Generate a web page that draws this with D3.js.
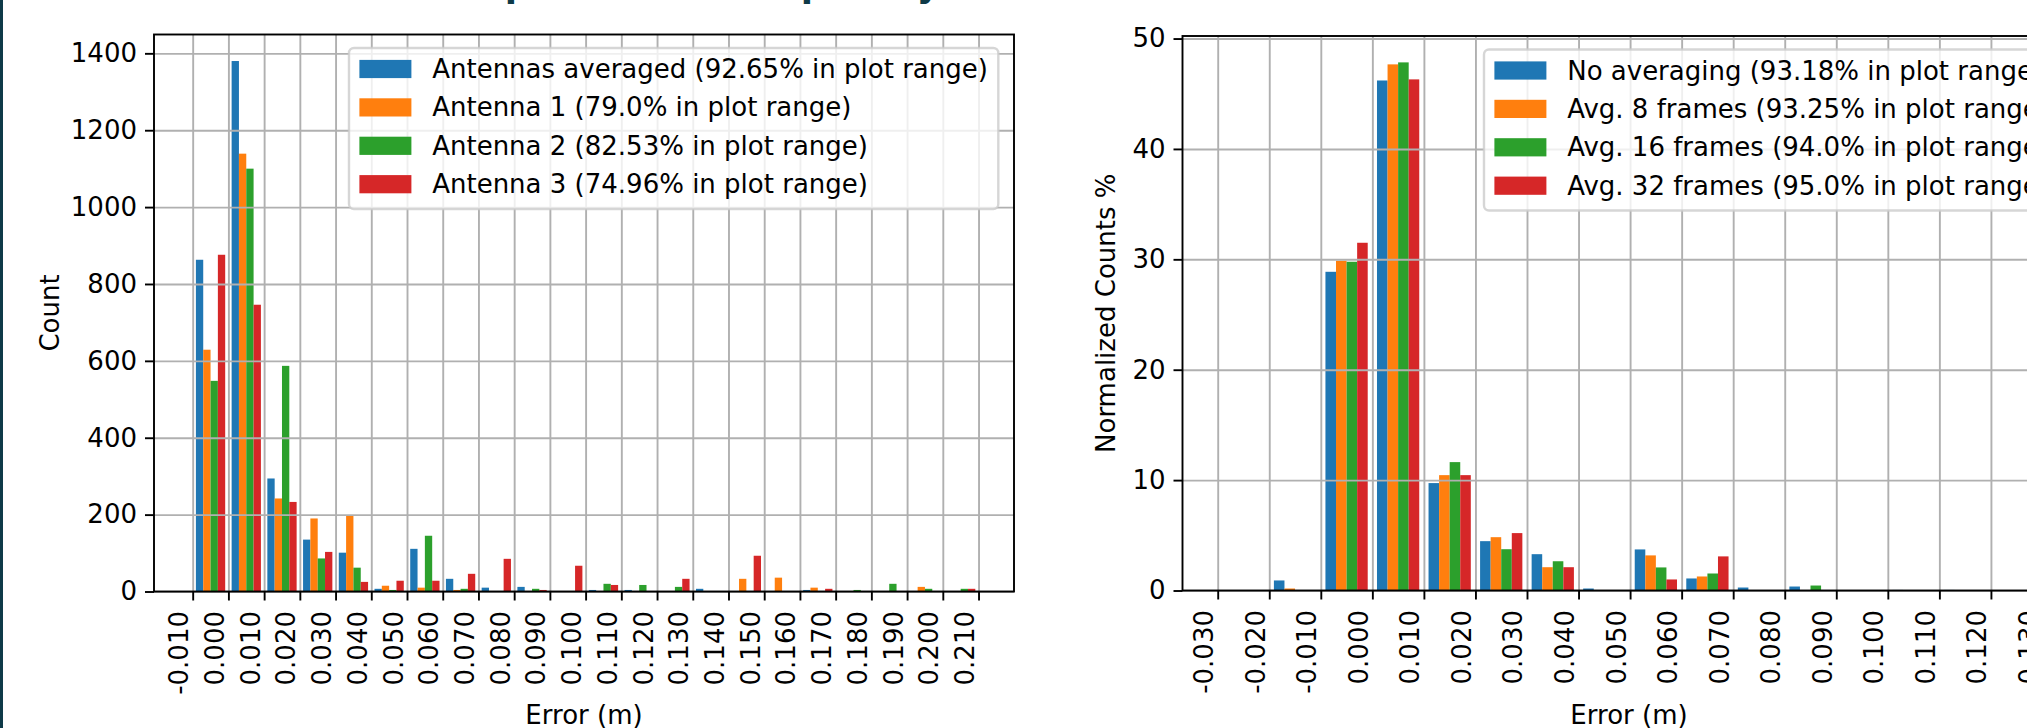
<!DOCTYPE html>
<html>
<head>
<meta charset="utf-8">
<script src="https://cdn.jsdelivr.net/npm/d3@7"></script>
<style>
  html, body { margin: 0; padding: 0; background: #fff; overflow: hidden; }
  svg { display: block; font-family: "DejaVu Sans", sans-serif; }
  text { fill: #000; }
</style>
</head>
<body>
<svg id="chart" width="2027" height="728"></svg>
<script>
const colors = ["#1f77b4", "#ff7f0e", "#2ca02c", "#d62728"];
const teal = "#0e3a48";
const binWidth = 0.01;

// left panel: counts per antenna, bins start at these edges
const leftBins = [-0.01, 0.0, 0.01, 0.02, 0.03, 0.04, 0.05, 0.06, 0.07, 0.08, 0.09,
  0.1, 0.11, 0.12, 0.13, 0.14, 0.15, 0.16, 0.17, 0.18, 0.19, 0.2];
const antennasAveraged = [863, 1380, 294, 135, 101, 7, 111, 33, 10, 12, 0, 4, 4, 0, 7, 0, 0, 4, 0, 0, 0, 0];
const antenna1 = [629, 1139, 242, 190, 197, 15, 10, 4, 0, 0, 0, 0, 0, 0, 0, 33, 36, 10, 0, 0, 12, 0];
const antenna2 = [548, 1100, 587, 86, 62, 4, 145, 7, 0, 7, 0, 20, 17, 12, 0, 0, 0, 0, 4, 20, 7, 7];
const antenna3 = [876, 746, 233, 103, 25, 28, 28, 46, 85, 4, 67, 17, 0, 33, 0, 93, 0, 7, 0, 0, 0, 7];
const leftLabels = [
  "Antennas averaged (92.65% in plot range)",
  "Antenna 1 (79.0% in plot range)",
  "Antenna 2 (82.53% in plot range)",
  "Antenna 3 (74.96% in plot range)"
];
const leftXTicks = [-0.01, 0.0, 0.01, 0.02, 0.03, 0.04, 0.05, 0.06, 0.07, 0.08, 0.09, 0.1,
  0.11, 0.12, 0.13, 0.14, 0.15, 0.16, 0.17, 0.18, 0.19, 0.2, 0.21];
const leftYTicks = [0, 200, 400, 600, 800, 1000, 1200, 1400];

// right panel: normalized counts per frame averaging
const rightBins = [-0.03, -0.02, -0.01, 0.0, 0.01, 0.02, 0.03, 0.04, 0.05, 0.06, 0.07, 0.08,
  0.09, 0.1, 0.11, 0.12];
const noAveraging = [0, 0.91, 28.87, 46.2, 9.73, 4.47, 3.29, 0.18, 3.72, 1.09, 0.27, 0.36, 0, 0.05, 0.05, 0];
const avg8Frames = [0, 0.18, 29.87, 47.66, 10.45, 4.83, 2.11, 0, 3.18, 1.27, 0, 0, 0, 0, 0, 0];
const avg16Frames = [0, 0, 29.78, 47.84, 11.63, 3.74, 2.65, 0, 2.09, 1.54, 0, 0.45, 0, 0, 0, 0];
const avg32Frames = [0, 0, 31.5, 46.3, 10.45, 5.2, 2.11, 0, 1.0, 3.09, 0, 0, 0, 0, 0, 0];
const rightLabels = [
  "No averaging (93.18% in plot range)",
  "Avg. 8 frames (93.25% in plot range)",
  "Avg. 16 frames (94.0% in plot range)",
  "Avg. 32 frames (95.0% in plot range)"
];
const rightXTicks = [-0.03, -0.02, -0.01, 0.0, 0.01, 0.02, 0.03, 0.04, 0.05, 0.06, 0.07, 0.08,
  0.09, 0.1, 0.11, 0.12, 0.13];
const rightYTicks = [0, 10, 20, 30, 40, 50];

const titleText = "Error of Spatial and Temporally Filtered Results";

const svg = d3.select("#chart");
svg.append("rect").attr("width", 2027).attr("height", 728).attr("fill", "#fff");

renderPanel(svg, {
  left: 154, right: 1014, top: 34.5, bottom: 591.5,
  xDomain: [-0.02083, 0.21993], yDomain: [0, 1449],
  bins: leftBins, series: [antennasAveraged, antenna1, antenna2, antenna3],
  labels: leftLabels, xTicks: leftXTicks, yTicks: leftYTicks,
  ylabel: "Count", ylabelX: 59, legendX: 349
});

renderPanel(svg, {
  left: 1182.5, right: 2080, top: 36, bottom: 590.5,
  xDomain: [-0.03683, 0.13728], yDomain: [0, 50.23],
  bins: rightBins, series: [noAveraging, avg8Frames, avg16Frames, avg32Frames],
  labels: rightLabels, xTicks: rightXTicks, yTicks: rightYTicks,
  ylabel: "Normalized Counts %", ylabelX: 1115, legendX: 1484, xlabelX: 1629
});

// slide decoration: title mostly above the crop, left border
const title = svg.append("text")
  .attr("font-weight", "bold")
  .style("fill", teal)
  .style("font-size", "40px")
  .text(titleText);
const tn = title.node();
const i1 = titleText.indexOf("p"), i2 = titleText.indexOf("p", i1 + 1);
const p1 = tn.getStartPositionOfChar(i1).x, p2 = tn.getStartPositionOfChar(i2).x;
const fs = (40 * (807 - 511)) / (p2 - p1);
title
  .style("font-size", fs + "px")
  .attr("x", 511 - (p1 * fs) / 40 - 0.17 * fs)
  .attr("y", 4 - 0.21 * fs);

svg.append("rect").attr("x", 0).attr("y", 0).attr("width", 3).attr("height", 728).attr("fill", teal);

function renderPanel(svg, p) {
  const x = d3.scaleLinear().domain(p.xDomain).range([p.left, p.right]),
    y = d3.scaleLinear().domain(p.yDomain).range([p.bottom, p.top]),
    g = svg.append("g");

  const n = p.series.length,
    rw = 0.82,
    barW = (binWidth * rw) / n;

  p.series.forEach((vals, i) => {
    g.append("g")
      .attr("fill", colors[i])
      .selectAll("rect")
      .data(p.bins.map((b, j) => ({ b, v: vals[j] })).filter((d) => d.v > 0))
      .enter()
      .append("rect")
      .attr("x", (d) => x(d.b + (binWidth * (1 - rw)) / 2 + i * barW))
      .attr("width", (d) => x(d.b + barW) - x(d.b))
      .attr("y", (d) => y(d.v))
      .attr("height", (d) => y(0) - y(d.v));
  });

  // grid sits above the bars, like matplotlib's default
  g.append("g")
    .attr("transform", `translate(0,${p.bottom})`)
    .call(d3.axisBottom(x).tickValues(p.xTicks).tickSize(-(p.bottom - p.top)).tickFormat(""))
    .call((s) => s.select(".domain").remove())
    .selectAll("line")
    .attr("stroke", "#b0b0b0")
    .attr("stroke-width", 1.9);

  g.append("g")
    .attr("transform", `translate(${p.left},0)`)
    .call(d3.axisLeft(y).tickValues(p.yTicks).tickSize(-(p.right - p.left)).tickFormat(""))
    .call((s) => s.select(".domain").remove())
    .selectAll("line")
    .attr("stroke", "#b0b0b0")
    .attr("stroke-width", 1.9);

  const xAxis = g.append("g")
    .attr("transform", `translate(0,${p.bottom})`)
    .call(d3.axisBottom(x).tickValues(p.xTicks).tickSize(9).tickSizeOuter(0).tickFormat((d) => d.toFixed(3)));
  xAxis.attr("font-family", null).attr("font-size", null);
  xAxis.select(".domain").remove();
  xAxis.selectAll("line").attr("stroke", "#000").attr("stroke-width", 1.9);
  xAxis.selectAll("text")
    .style("font-size", "26px")
    .attr("transform", "rotate(-90)")
    .attr("x", -19.5)
    .attr("y", -5)
    .attr("dy", null)
    .attr("text-anchor", "end");

  const yAxis = g.append("g")
    .attr("transform", `translate(${p.left},0)`)
    .call(d3.axisLeft(y).tickValues(p.yTicks).tickSize(9).tickPadding(8).tickSizeOuter(0).tickFormat((d) => String(d)));
  yAxis.attr("font-family", null).attr("font-size", null);
  yAxis.select(".domain").remove();
  yAxis.selectAll("line").attr("stroke", "#000").attr("stroke-width", 1.9);
  yAxis.selectAll("text").style("font-size", "26px");

  g.append("rect")
    .attr("x", p.left)
    .attr("y", p.top)
    .attr("width", p.right - p.left)
    .attr("height", p.bottom - p.top)
    .attr("fill", "none")
    .attr("stroke", "#000")
    .attr("stroke-width", 1.9);

  g.append("text")
    .attr("transform", `translate(${p.ylabelX},${(p.top + p.bottom) / 2}) rotate(-90)`)
    .attr("text-anchor", "middle")
    .style("font-size", "26px")
    .text(p.ylabel);

  g.append("text")
    .attr("x", p.xlabelX || (p.left + p.right) / 2)
    .attr("y", 723.5)
    .attr("text-anchor", "middle")
    .style("font-size", "26px")
    .text("Error (m)");

  // legend, upper right
  const lg = g.append("g").attr("transform", `translate(${p.legendX},${p.top + 13.5})`);
  const box = lg.append("rect")
    .attr("rx", 5)
    .attr("fill", "rgba(255,255,255,0.8)")
    .attr("stroke", "rgba(204,204,204,0.8)")
    .attr("stroke-width", 2.4);
  let maxLen = 0;
  p.labels.forEach((label, i) => {
    const cy = 21 + i * 38.4;
    lg.append("rect")
      .attr("x", 10.4)
      .attr("y", cy - 9.1)
      .attr("width", 52)
      .attr("height", 18.2)
      .attr("fill", colors[i]);
    const t = lg.append("text")
      .attr("x", 83.2)
      .attr("y", cy + 9)
      .style("font-size", "26px")
      .text(label);
    maxLen = Math.max(maxLen, t.node().getComputedTextLength());
  });
  box.attr("width", 83.2 + maxLen + 10.4).attr("height", 161);
}
</script>
</body>
</html>
